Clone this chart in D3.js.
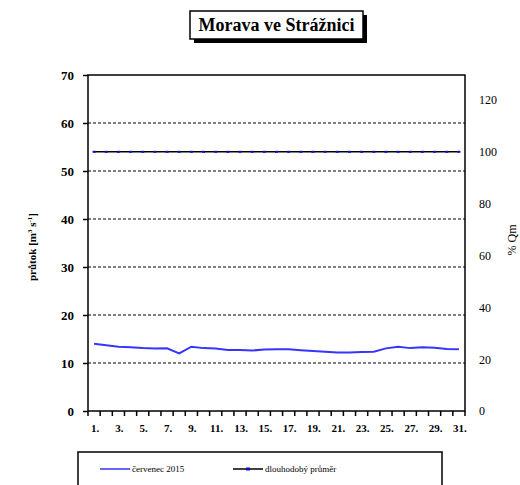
<!DOCTYPE html>
<html><head><meta charset="utf-8">
<script src="https://cdn.jsdelivr.net/npm/d3@7"></script>
<style>body{margin:0;background:#fff}svg{display:block}</style>
</head><body>
<script>
const days = d3.range(1, 32);
const flow = [14.0,13.7,13.4,13.3,13.1,13.0,13.05,12.0,13.4,13.1,13.0,12.7,12.7,12.6,12.8,12.85,12.85,12.65,12.5,12.35,12.2,12.2,12.3,12.35,13.05,13.4,13.1,13.3,13.2,12.9,12.85];
const longTermMean = 54.0;
const leftTicks = [0,10,20,30,40,50,60,70];
const rightTicks = [0,20,40,60,80,100,120];
const xLabelDays = d3.range(1, 32, 2);
const title = "Morava ve Strážnici";
const seriesNames = ["červenec 2015", "dlouhodobý průměr"];

const W = 520, H = 485;
const svg = d3.select("body").append("svg").attr("width", W).attr("height", H);
const L = 88, R = 465, T = 75, B = 411;
const serif = "'Liberation Serif','DejaVu Serif',serif";

const x = d3.scaleBand().domain(days).range([L, R]);
const y = d3.scaleLinear().domain([0, 70]).range([B, T]);
const y2 = d3.scaleLinear().domain([0, 70 / longTermMean * 100]).range([B, T]);

// gridlines
svg.append("g").selectAll("line").data(leftTicks.filter(d => d > 0 && d < 70)).join("line")
  .attr("x1", L).attr("x2", R).attr("y1", d => y(d)).attr("y2", d => y(d))
  .attr("stroke", "#000").attr("stroke-width", 1.2).attr("stroke-dasharray", "3,2");

// plot box
svg.append("rect").attr("x", L).attr("y", T).attr("width", R - L).attr("height", B - T)
  .attr("fill", "none").attr("stroke", "#000").attr("stroke-width", 1.5);

// left axis
const gl = svg.append("g").attr("transform", `translate(${L},0)`)
  .call(d3.axisLeft(y).tickValues(leftTicks).tickSize(5).tickPadding(9).tickFormat(d3.format("d")));
gl.select(".domain").remove();
gl.selectAll("line").attr("stroke-width", 1.5);
gl.selectAll("text").attr("font-family", serif).attr("font-weight", "bold").attr("font-size", 13).attr("fill", "#000");

// right axis
const gr = svg.append("g").attr("transform", `translate(${R},0)`)
  .call(d3.axisRight(y2).tickValues(rightTicks).tickSize(0).tickPadding(14).tickFormat(d3.format("d")));
gr.select(".domain").remove();
gr.selectAll("text").attr("font-family", serif).attr("font-size", 12).attr("fill", "#000");

// bottom axis ticks at category boundaries
const bounds = days.map(d => x(d)).concat([R]);
svg.append("g").selectAll("line").data(bounds).join("line")
  .attr("x1", d => d).attr("x2", d => d).attr("y1", B).attr("y2", B + 5)
  .attr("stroke", "#000").attr("stroke-width", 1.5);
svg.append("g").selectAll("text").data(xLabelDays).join("text")
  .attr("x", d => x(d) + x.bandwidth() / 2 + 1).attr("y", B + 21)
  .attr("text-anchor", "middle").attr("font-family", serif).attr("font-weight", "bold")
  .attr("font-size", 11).text(d => d + ".");

// axis titles
svg.append("text").attr("transform", `translate(36,247) rotate(-90)`).attr("text-anchor", "middle")
  .attr("font-family", serif).attr("font-size", 11).attr("font-weight", "bold")
  .html('průtok  [m<tspan dy="-4" font-size="7">3</tspan><tspan dy="4"> s</tspan><tspan dy="-4" font-size="7">-1</tspan><tspan dy="4">]</tspan>');
svg.append("text").attr("transform", `translate(516,240) rotate(-90)`).attr("text-anchor", "middle")
  .attr("font-family", serif).attr("font-size", 12).text("% Qm");

// long-term mean line
const cx = d => x(d) + x.bandwidth() / 2;
svg.append("path").datum(days).attr("fill", "none").attr("stroke", "#000").attr("stroke-width", 1.5)
  .attr("d", d3.line().x(cx).y(() => y(longTermMean)));
svg.append("g").selectAll("rect").data(days).join("rect")
  .attr("x", d => cx(d) - 1.5).attr("y", y(longTermMean) - 1).attr("width", 3).attr("height", 2)
  .attr("fill", "#1010c0");

// flow line
svg.append("path").datum(flow).attr("fill", "none").attr("stroke", "#3535ff").attr("stroke-width", 2)
  .attr("d", d3.line().x((d, i) => cx(days[i])).y(d => y(d)));

// title with shadow box
const tb = { x: 190, y: 11, w: 173, h: 28 };
svg.append("rect").attr("x", tb.x + 4).attr("y", tb.y + 4).attr("width", tb.w).attr("height", tb.h).attr("fill", "#000");
svg.append("rect").attr("x", tb.x).attr("y", tb.y).attr("width", tb.w).attr("height", tb.h)
  .attr("fill", "#fff").attr("stroke", "#000").attr("stroke-width", 1.5);
svg.append("text").attr("x", tb.x + tb.w / 2).attr("y", tb.y + 20).attr("text-anchor", "middle")
  .attr("font-family", serif).attr("font-weight", "bold").attr("font-size", 18).attr("fill", "#000").text(title);

// legend
svg.append("rect").attr("x", 78).attr("y", 452).attr("width", 364).attr("height", 50)
  .attr("fill", "#fff").attr("stroke", "#000").attr("stroke-width", 1.5);
const ly = 469;
svg.append("line").attr("x1", 100).attr("x2", 130).attr("y1", ly).attr("y2", ly).attr("stroke", "#3535ff").attr("stroke-width", 1.5);
svg.append("text").attr("x", 132).attr("y", ly + 3).attr("font-family", serif).attr("font-size", 9).text(seriesNames[0]);
svg.append("line").attr("x1", 233).attr("x2", 263).attr("y1", ly).attr("y2", ly).attr("stroke", "#000").attr("stroke-width", 1.5);
svg.append("rect").attr("x", 246).attr("y", ly - 1.5).attr("width", 4).attr("height", 3).attr("fill", "#1010c0");
svg.append("text").attr("x", 265).attr("y", ly + 3).attr("font-family", serif).attr("font-size", 9).text(seriesNames[1]);
</script>
</body></html>
